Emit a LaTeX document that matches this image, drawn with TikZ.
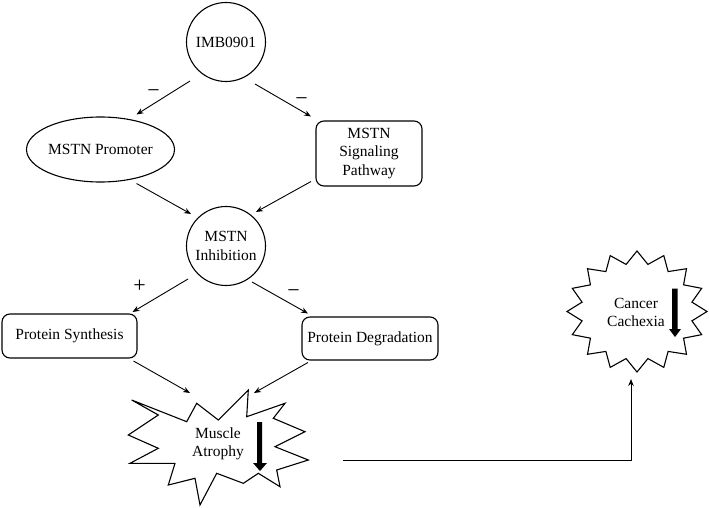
\documentclass[tikz,border=0pt]{standalone}
\usepackage{fontspec}
\setmainfont{Liberation Serif}
\usetikzlibrary{arrows.meta,calc,shapes.geometric}
\begin{document}
\begin{tikzpicture}[x=1pt,y=-1pt,
  every node/.style={font=\fontsize{15.5}{18.5}\selectfont, align=center, inner sep=0pt},
  circ/.style={draw, circle, line width=1.1pt, minimum size=79pt},
  ell/.style={draw, ellipse, line width=1.1pt},
  rbox/.style={draw, rounded corners=8pt, line width=1.1pt},
  arr/.style={line width=0.9pt, -{Stealth[length=7pt,width=5.5pt]}},
  sign/.style={font=\fontsize{22}{22}\selectfont},
  star/.style={draw, line width=1.1pt, line join=miter},
  bigarrow/.style={fill=black}]
\useasboundingbox (0,0) rectangle (709,508);

% nodes
\node[circ] (imb) at (226,42) {IMB0901};
\node[ell, minimum width=131pt, minimum height=65pt] (prom) at (100.5,149.5) {MSTN Promoter};
\node[rbox, minimum width=106pt, minimum height=65pt] (sig) at (369,153.5) {MSTN\\Signaling\\Pathway};
\node[circ] (inh) at (226,246) {MSTN\\Inhibition};
\node[rbox, minimum width=135pt, minimum height=44pt] (syn) at (69.5,336) {Protein Synthesis};
\node[rbox, minimum width=136pt, minimum height=43pt] (deg) at (370,338.5) {Protein Degradation};

% Muscle Atrophy starburst
\draw[star] (131.7,400) -- (186.7,421.7) -- (196.7,403.3) -- (218.3,420) -- (248.3,390)
  -- (246.7,416.7) -- (285,403.3) -- (273.3,418.3) -- (305,431.7) -- (275,446.7)
  -- (308.3,460) -- (276.7,470) -- (280,486.7) -- (258.3,473.3) -- (243.3,483.3)
  -- (216.7,473.3) -- (200,505) -- (195,478.3) -- (168.3,485) -- (175,463.3)
  -- (130,463.3) -- (158.3,448.3) -- (128.3,435) -- (158.3,415) -- cycle;
\node (ma) at (218,444) {Muscle\\Atrophy};
\fill[bigarrow] (257,422) -- (262,422) -- (262,463) -- (267,463) -- (260,471) -- (253,463) -- (257,463) -- cycle;

% Cancer Cachexia starburst
\draw[star, shift={(637,311.5)}] plot[samples=33, domain=0:32, variable=\k]
  ({(mod(round(\k),2)==0 ? 70 : 56)*cos(90+\k*11.25)}, {(mod(round(\k),2)==0 ? 60.5 : 48)*sin(90+\k*11.25)}) -- cycle;
\node (cc) at (636,312.5) {Cancer\\Cachexia};
\fill[bigarrow] (672,288.5) -- (677.5,288.5) -- (677.5,329) -- (681,329) -- (675,337) -- (669,329) -- (672,329) -- cycle;

% connectors
\draw[arr] ($(imb)+(-36,39)$) -- ($(prom)+(36,-35)$);
\draw[arr] ($(imb)+(29,42)$) -- ($(sig)+(-58,-37)$);
\draw[arr] ($(prom)+(36,34)$) -- ($(inh)+(-35,-32)$);
\draw[arr] ($(sig)+(-58,28)$) -- ($(inh)+(30,-34)$);
\draw[arr] ($(inh)+(-38,33)$) -- ($(syn)+(63,-24)$);
\draw[arr] ($(inh)+(26,36)$) -- ($(deg)+(-62,-25)$);
\draw[arr] ($(syn)+(64,25)$) -- ($(ma)+(-28,-51)$);
\draw[arr] ($(deg)+(-62,24)$) -- ($(ma)+(36,-51)$);
\coordinate (maout) at (343,460);
\coordinate (ccin) at (631,379);
\draw[arr] (maout) -| (ccin);

% signs
\node[sign] (s1) at (153.5,94) {−};
\node[sign] (s2) at (301.5,102) {−};
\node[sign] (s3) at (139.5,286) {+};
\node[sign] (s4) at (293.5,294) {−};
\end{tikzpicture}
\end{document}
